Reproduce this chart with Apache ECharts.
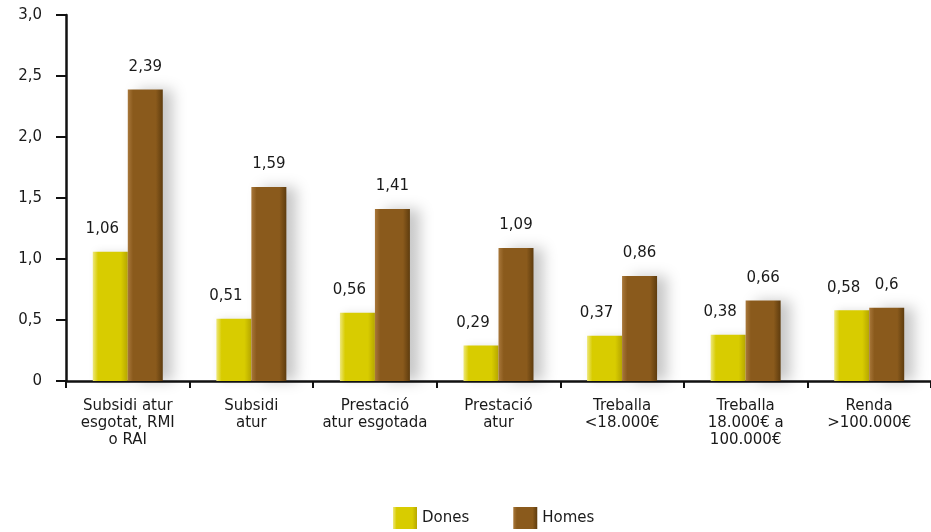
<!DOCTYPE html>
<html>
<head>
<meta charset="utf-8">
<script src="https://cdn.jsdelivr.net/npm/echarts@6/dist/echarts.min.js"></script>
<style>
  html, body { margin: 0; padding: 0; background: #ffffff; }
  #chart { width: 931px; height: 532px; }
</style>
</head>
<body>
<div id="chart"></div>
<script>
// Categories (income / benefit situation)
const categories = [
  'Subsidi atur\nesgotat, RMI\no RAI',
  'Subsidi\natur',
  'Prestació\natur esgotada',
  'Prestació\natur',
  'Treballa\n<18.000€',
  'Treballa\n18.000€ a\n100.000€',
  'Renda\n>100.000€'
];
const dones = [1.06, 0.51, 0.56, 0.29, 0.37, 0.38, 0.58];
const homes = [2.39, 1.59, 1.41, 1.09, 0.86, 0.66, 0.6];
const yTicks = [0, 0.5, 1.0, 1.5, 2.0, 2.5, 3.0];

const fontFamily = '"DejaVu Sans", Verdana, sans-serif';
const commaNum = v => String(v).replace('.', ',');

function barGradient(light, mid, dark) {
  return new echarts.graphic.LinearGradient(0, 0, 1, 0, [
    { offset: 0, color: light },
    { offset: 0.15, color: mid },
    { offset: 0.8, color: mid },
    { offset: 1, color: dark }
  ]);
}

const chart = echarts.init(document.getElementById('chart'));
chart.setOption({
  animation: false,
  backgroundColor: '#ffffff',
  grid: { left: 66, right: 0, top: 15, bottom: 151, containLabel: false },
  legend: {
    top: 502,
    left: 388,
    icon: 'rect',
    itemWidth: 24,
    itemHeight: 22,
    itemGap: 44,
    textStyle: { fontFamily, fontSize: 15, color: '#1a1a1a' },
    data: ['Dones', 'Homes']
  },
  xAxis: {
    type: 'category',
    data: categories,
    axisLine: { lineStyle: { color: '#111', width: 2.5 } },
    axisTick: { show: true, length: 7, lineStyle: { color: '#111', width: 2 } },
    axisLabel: {
      fontFamily, fontSize: 15, color: '#1a1a1a', lineHeight: 17, margin: 17,
      interval: 0
    }
  },
  yAxis: {
    type: 'value',
    min: yTicks[0],
    max: yTicks[yTicks.length - 1],
    interval: 0.5,
    splitLine: { show: false },
    axisLine: { show: true, lineStyle: { color: '#111', width: 2.5 } },
    axisTick: { show: true, length: 10, lineStyle: { color: '#111', width: 2 } },
    axisLabel: {
      fontFamily, fontSize: 15, color: '#1a1a1a', margin: 24,
      formatter: v => v === 0 ? '0' : v.toFixed(1).replace('.', ',')
    }
  },
  series: [
    {
      name: 'Dones',
      type: 'bar',
      data: dones,
      barWidth: 35,
      barGap: '0%',
      itemStyle: {
        color: barGradient('#eee87a', '#d8cc00', '#b8a800'),
        shadowColor: 'rgba(0,0,0,0.12)',
        shadowBlur: 8,
        shadowOffsetX: 4
      },
      label: {
        show: true, position: 'top', distance: 15, offset: [-8, 0],
        fontFamily, fontSize: 15, color: '#1a1a1a',
        formatter: p => commaNum(p.value)
      }
    },
    {
      name: 'Homes',
      type: 'bar',
      data: homes,
      barWidth: 35,
      itemStyle: {
        color: barGradient('#a8773a', '#8a5a1c', '#5e3c0e'),
        shadowColor: 'rgba(0,0,0,0.22)',
        shadowBlur: 14,
        shadowOffsetX: 10
      },
      label: {
        show: true, position: 'top', distance: 15,
        fontFamily, fontSize: 15, color: '#1a1a1a',
        formatter: p => commaNum(p.value)
      }
    }
  ]
});
</script>
</body>
</html>
